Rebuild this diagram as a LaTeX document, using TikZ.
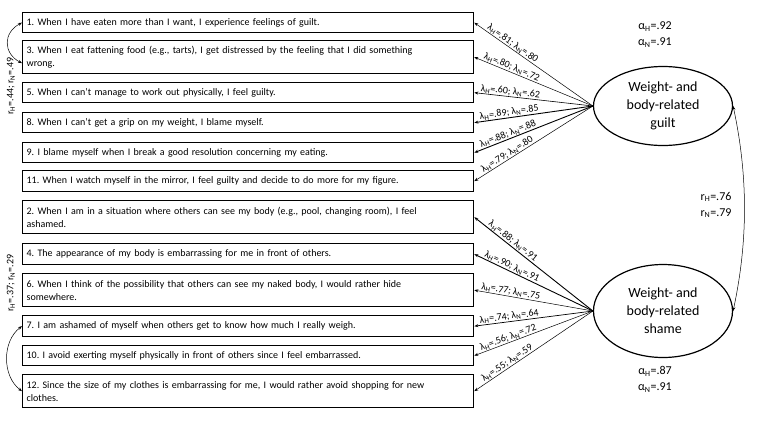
\documentclass[tikz,border=0pt]{standalone}
\usepackage{fontspec}
\setmainfont{Carlito}
\usetikzlibrary{arrows.meta,shapes.geometric}
\frenchspacing

\begin{document}
\begin{tikzpicture}[
        x=1pt, y=-1pt,
        % --- STYLES ---
        itembox/.style={
            rectangle,
            draw=black,
            line width=1.3pt,
            anchor=north west,
            text width=443pt,
            inner xsep=4pt, inner ysep=0pt,
            align=left,
            font=\fontsize{10}{13}\selectfont
        },
        % latent factor (ellipse)
        latent/.style={
            ellipse,
            draw=black,
            line width=1.2pt,
            minimum width=139pt,
            inner sep=0pt,
            align=center,
            font=\fontsize{14}{18}\selectfont
        },
        % factor loading arrows
        loading/.style={-{Stealth[length=4pt,width=3pt]}},
        lam/.style={sloped, above, inner sep=0.5pt, font=\fontsize{10}{11}\selectfont},
        % correlations
        corr/.style={{Stealth[length=4pt,width=3pt]}-{Stealth[length=4pt,width=3pt]}, line width=0.5pt},
        stat/.style={align=center, font=\fontsize{12}{16}\selectfont},
        rlab/.style={rotate=90, inner sep=0pt, font=\fontsize{10}{11}\selectfont}
    ]

        \useasboundingbox (0,0) rectangle (762,429);

        % --- ITEM BOXES ---
        \foreach \name/\ytop/\hgt/\txt in {
            b1/12/20/{1. When I have eaten more than I want, I experience feelings of guilt.},
            b3/40/33/{3. When I eat fattening food (e.g., tarts), I get distressed by the feeling that I did something\\wrong.},
            b5/82/20/{5. When I can’t manage to work out physically, I feel guilty.},
            b8/112/20/{8. When I can’t get a grip on my weight, I blame myself.},
            b9/142/20/{9. I blame myself when I break a good resolution concerning my eating.},
            b11/170/21/{11. When I watch myself in the mirror, I feel guilty and decide to do more for my figure.},
            b2/200/33/{2. When I am in a situation where others can see my body (e.g., pool, changing room), I feel\\ashamed.},
            b4/243/21/{4. The appearance of my body is embarrassing for me in front of others.},
            b6/273/33/{6. When I think of the possibility that others can see my naked body, I would rather hide\\somewhere.},
            b7/315/21/{7. I am ashamed of myself when others get to know how much I really weigh.},
            b10/345/20/{10. I avoid exerting myself physically in front of others since I feel embarrassed.},
            b12/374/33/{12. Since the size of my clothes is embarrassing for me, I would rather avoid shopping for new\\clothes.}
        } {
            \node[itembox, minimum height=\hgt pt] (\name) at (22,\ytop) {\txt};
        }

        % --- LATENT FACTORS ---
        \node[latent, minimum height=79pt] (G) at (663,106) {Weight- and\\body-related\\guilt};
        \node[latent, minimum height=93pt] (S) at (663,311) {Weight- and\\body-related\\shame};

        % reliabilities
        \node[stat] (aG) at (655,35) {α\textsubscript{H}=.92\\α\textsubscript{N}=.91};
        \node[stat] (aS) at (655,379) {α\textsubscript{H}=.87\\α\textsubscript{N}=.91};

        % --- LOADINGS ---
        \foreach \lat/\itm/\lamH/\lamN/\w in {
            G/b1/.81/.80/0.5, G/b3/.80/.72/0.5, G/b5/.60/.62/0.6,
            G/b8/.89/.85/0.9, G/b9/.88/.88/0.9, G/b11/.79/.80/0.5,
            S/b2/.88/.91/0.9, S/b4/.90/.91/0.9, S/b6/.77/.75/0.5,
            S/b7/.74/.64/0.7, S/b10/.56/.72/0.5, S/b12/.55/.59/0.5
        } {
            \draw[loading, line width=\w pt] (\lat.west) -- node[lam, pos=0.7]
                {λ\textsubscript{H}=\lamH; λ\textsubscript{N}=\lamN} (\itm.east);
        }

        % --- CORRELATIONS ---
        \draw[corr] (G.east) .. controls +(15,70) and +(15,-70) .. (S.east);
        \node[stat] (rGS) at (716,205) {r\textsubscript{H}=.76\\r\textsubscript{N}=.79};

        % residual correlations
        \draw[corr] (b1.west) .. controls +(-19,10) and +(-19,-10) .. ([yshift=-6pt]b3.west);
        \node[rlab] (r13) at (11,86) {r\textsubscript{H}=.44; r\textsubscript{N}=.49};
        \draw[corr] (b7.west) .. controls +(-20,15) and +(-20,-15) .. (b12.west);
        \node[rlab] (r712) at (11,283) {r\textsubscript{H}=.37; r\textsubscript{N}=.29};

    \end{tikzpicture}
\end{document}
